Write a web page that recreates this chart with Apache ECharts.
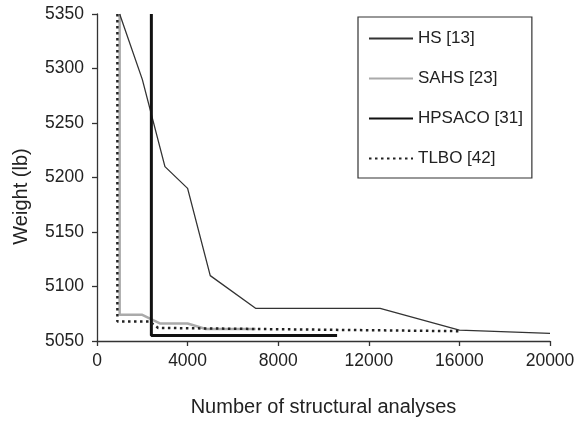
<!DOCTYPE html>
<html lang="en">
<head>
	<meta charset="UTF-8">
	<title>Weight vs structural analyses</title>
	<style>
		html, body { margin: 0; padding: 0; background: #fff; }
		#container { width: 579px; height: 422px; }
	</style>
</head>
<body>
	<div id="container"></div>

	<script src="https://cdn.jsdelivr.net/npm/echarts@6/dist/echarts.min.js"></script>
	<script>
		// series names (legend)
		var names = ['HS [13]', 'SAHS [23]', 'HPSACO [31]', 'TLBO [42]'];

		// [analyses, weight]
		var hs = [[1000, 5350], [2000, 5290], [3000, 5210], [4000, 5190], [5000, 5110],
			[7000, 5080], [12500, 5080], [16000, 5060], [20000, 5057]];
		var sahs = [[1000, 5350], [1000, 5074], [2000, 5074], [2800, 5066], [4000, 5066],
			[4800, 5061], [7000, 5061]];
		var hpsaco = [[2400, 5350], [2400, 5055], [10600, 5055]];
		var tlbo = [[900, 5350], [900, 5068], [2300, 5068], [2700, 5062], [16000, 5059]];

		var xTicks = { min: 0, max: 20000, step: 4000 };
		var yTicks = { min: 5050, max: 5350, step: 50 };

		var font = 'Liberation Sans, Arial, sans-serif';
		var myChart = echarts.init(document.getElementById('container'));

		function plain(v) { return String(v); }

		var option = {
			animation: false,
			backgroundColor: '#fff',
			textStyle: { fontFamily: font },
			grid: { left: 97, right: 29, top: 14, bottom: 70 },
			legend: {
				orient: 'vertical',
				left: 358,
				top: 17,
				padding: [13, 9, 11, 10],
				borderColor: '#333',
				borderWidth: 1.2,
				itemWidth: 44,
				itemHeight: 17,
				itemGap: 23,
				itemStyle: { opacity: 0 },
				textStyle: { fontFamily: font, fontSize: 17, color: '#222', lineHeight: 17 },
				data: names
			},
			xAxis: {
				type: 'value',
				min: xTicks.min,
				max: xTicks.max,
				interval: xTicks.step,
				name: 'Number of structural analyses',
				nameLocation: 'middle',
				nameGap: 56,
				nameTextStyle: { fontFamily: font, fontSize: 20, color: '#222' },
				axisLine: { lineStyle: { color: '#333', width: 1.3 } },
				axisTick: { length: 5, lineStyle: { color: '#333', width: 1.3 } },
				axisLabel: { fontFamily: font, fontSize: 17.5, color: '#222', margin: 11, formatter: plain },
				splitLine: { show: false }
			},
			yAxis: {
				type: 'value',
				min: yTicks.min,
				max: yTicks.max,
				interval: yTicks.step,
				name: 'Weight (lb)',
				nameLocation: 'middle',
				nameGap: 66,
				nameTextStyle: { fontFamily: font, fontSize: 20, color: '#222', padding: [0, 38, 0, 0] },
				axisLine: { show: true, lineStyle: { color: '#333', width: 1.3 } },
				axisTick: { show: true, length: 5, lineStyle: { color: '#333', width: 1.3 } },
				axisLabel: { fontFamily: font, fontSize: 17.5, color: '#222', margin: 13, formatter: plain },
				splitLine: { show: false }
			},
			series: [{
				name: names[1],
				type: 'line',
				symbol: 'none',
				z: 1,
				lineStyle: { color: '#aaa', width: 2.5 },
				itemStyle: { color: '#aaa' },
				data: sahs
			}, {
				name: names[0],
				type: 'line',
				symbol: 'none',
				z: 2,
				lineStyle: { color: '#333', width: 1.3 },
				itemStyle: { color: '#333' },
				data: hs
			}, {
				name: names[2],
				type: 'line',
				symbol: 'none',
				z: 3,
				lineStyle: { color: '#111', width: 3 },
				itemStyle: { color: '#111' },
				data: hpsaco
			}, {
				name: names[3],
				type: 'line',
				symbol: 'none',
				z: 4,
				lineStyle: { color: '#222', width: 2.5, type: [2.5, 3.5] },
				itemStyle: { color: '#222' },
				data: tlbo
			}]
		};

		myChart.setOption(option);
	</script>
</body>
</html>
